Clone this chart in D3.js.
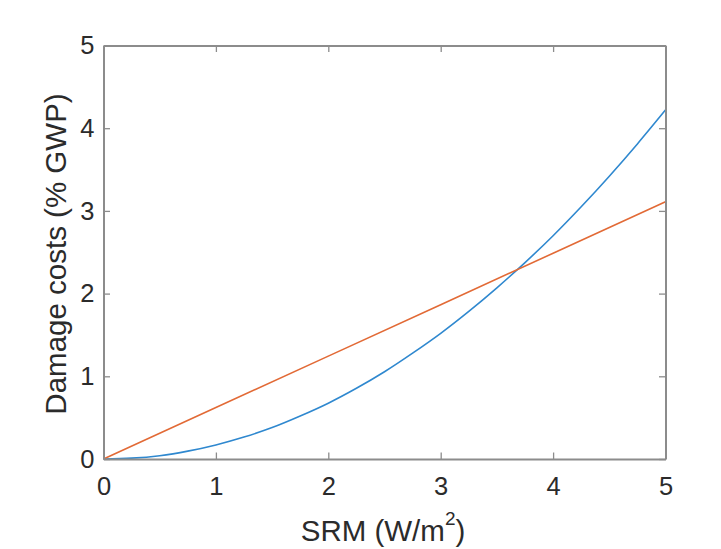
<!DOCTYPE html>
<html>
<head>
<meta charset="utf-8">
<script src="https://cdn.jsdelivr.net/npm/d3@7"></script>
<style>
  html, body { margin: 0; padding: 0; background: #fff; }
  svg { display: block; font-family: "Liberation Sans", Arial, Helvetica, sans-serif; }
</style>
</head>
<body>
<svg id="chart" width="721" height="549"></svg>
<script>
// SRM forcing (W/m^2) sample points
const srm = [0, 0.25, 0.5, 0.75, 1, 1.25, 1.5, 1.75, 2, 2.25, 2.5, 2.75, 3, 3.25, 3.5, 3.75, 4, 4.25, 4.5, 4.75, 5];
// Quadratic-shaped damage curve (% GWP)
const damageCurve = [0, 0.01, 0.04, 0.095, 0.17, 0.265, 0.38, 0.52, 0.675, 0.855, 1.055, 1.28, 1.52, 1.785, 2.07, 2.375, 2.70, 3.05, 3.42, 3.81, 4.22];
// Linear damage line (% GWP)
const srmLinear = [0, 1, 2, 3, 4, 5];
const damageLinear = [0, 0.622, 1.244, 1.866, 2.488, 3.11];

const xTicks = [0, 1, 2, 3, 4, 5];
const yTicks = [0, 1, 2, 3, 4, 5];

const svg = d3.select("#chart");
const plotLeft = 103.5, plotRight = 665.5, plotTop = 45.5, plotBottom = 459;

const x = d3.scaleLinear().domain([0, 5]).range([plotLeft, plotRight]);
const y = d3.scaleLinear().domain([0, 5]).range([plotBottom, plotTop]);

const axisColor = "#8c8c8c";
const textColor = "#2b2b2b";
const tickLen = 6.5;
const tickFont = "25.5px";
const titleFont = "29.5px";

// Data lines
const line = d3.line().x(d => x(d[0])).y(d => y(d[1])).curve(d3.curveMonotoneX);

svg.append("path")
  .datum(srm.map((s, i) => [s, damageCurve[i]]))
  .attr("d", line)
  .attr("fill", "none")
  .attr("stroke", "#2f88cf")
  .attr("stroke-width", 1.6);

svg.append("path")
  .datum(srmLinear.map((s, i) => [s, damageLinear[i]]))
  .attr("d", d3.line().x(d => x(d[0])).y(d => y(d[1])))
  .attr("fill", "none")
  .attr("stroke", "#e26a36")
  .attr("stroke-width", 1.6);

// Axes (ticks pointing inward on all four sides)
const axisStyle = g => {
  g.select(".domain").attr("stroke", axisColor).attr("stroke-width", 2);
  g.selectAll(".tick line").attr("stroke", axisColor).attr("stroke-width", 1.3);
  g.selectAll(".tick text").attr("fill", textColor).style("font-size", tickFont);
};

svg.append("g")
  .attr("transform", `translate(0,${plotBottom})`)
  .call(d3.axisBottom(x).tickValues(xTicks).tickFormat(d3.format("d"))
    .tickSizeInner(-tickLen).tickSizeOuter(0).tickPadding(18))
  .call(axisStyle);

svg.append("g")
  .attr("transform", `translate(0,${plotTop})`)
  .call(d3.axisTop(x).tickValues(xTicks).tickFormat("")
    .tickSizeInner(-tickLen).tickSizeOuter(0))
  .call(axisStyle);

svg.append("g")
  .attr("transform", `translate(${plotLeft},0)`)
  .call(d3.axisLeft(y).tickValues(yTicks).tickFormat(d3.format("d"))
    .tickSizeInner(-tickLen).tickSizeOuter(0).tickPadding(9))
  .call(axisStyle);

svg.append("g")
  .attr("transform", `translate(${plotRight},0)`)
  .call(d3.axisRight(y).tickValues(yTicks).tickFormat("")
    .tickSizeInner(-tickLen).tickSizeOuter(0))
  .call(axisStyle);

// Axis titles
const xt = svg.append("text")
  .attr("x", 383)
  .attr("y", 541)
  .attr("text-anchor", "middle")
  .attr("fill", textColor)
  .style("font-size", titleFont);
xt.append("tspan").text("SRM (W/m");
xt.append("tspan").text("2").attr("dy", -16).style("font-size", "19px");
xt.append("tspan").text(")").attr("dy", 16);

svg.append("text")
  .attr("transform", `translate(66,254) rotate(-90)`)
  .attr("text-anchor", "middle")
  .attr("fill", textColor)
  .style("font-size", titleFont)
  .text("Damage costs (% GWP)");
</script>
</body>
</html>
